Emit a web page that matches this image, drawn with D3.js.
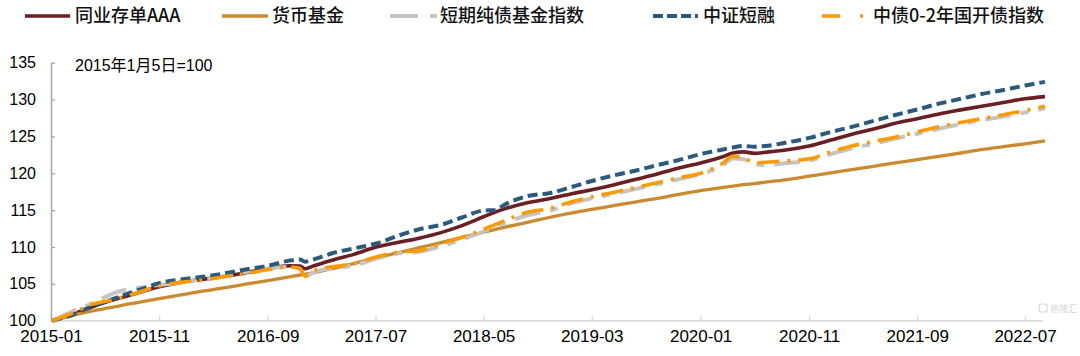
<!DOCTYPE html>
<html><head><meta charset="utf-8">
<script src="https://cdn.jsdelivr.net/npm/d3@7"></script>
<style>
html,body{margin:0;padding:0;background:#fff;}
svg{display:block;}
</style></head>
<body>
<svg id="chart" width="1080" height="356"></svg>
<script>
const dates = ["2015-01-05","2015-02-01","2015-03-01","2015-04-01","2015-05-01","2015-06-01","2015-07-01","2015-08-01","2015-09-01","2015-11-01",
"2016-01-01","2016-03-01","2016-05-01","2016-07-01","2016-09-01","2016-11-01","2016-12-01","2016-12-15","2017-01-01","2017-02-01",
"2017-03-01","2017-05-01","2017-07-01","2017-09-01","2017-11-01","2018-01-01","2018-03-01","2018-05-01","2018-06-01","2018-07-01",
"2018-09-01","2018-11-01","2019-01-01","2019-03-01","2019-05-01","2019-07-01","2019-09-01","2019-11-01","2020-01-01","2020-03-01",
"2020-04-01","2020-05-01","2020-06-01","2020-07-01","2020-09-01","2020-11-01","2021-01-01","2021-03-01","2021-05-01","2021-07-01",
"2021-09-01","2021-11-01","2022-01-01","2022-03-01","2022-05-01","2022-07-01","2022-08-26"];

const ncdAAA = [100,100.45,100.85,101.4,101.95,102.45,102.9,103.3,103.75,104.6,
105.2,105.6,106.0,106.5,107.05,107.45,107.4,107.05,107.3,107.8,
108.2,109.0,109.95,110.6,111.2,111.95,112.9,114.1,114.7,115.2,
116.0,116.55,117.2,117.75,118.4,119.15,119.9,120.7,121.4,122.2,
122.75,122.9,122.7,122.85,123.2,123.7,124.5,125.3,126.0,126.8,
127.4,128.05,128.6,129.1,129.6,130.1,130.4];

const moneyFund = [100,100.35,100.7,101.05,101.35,101.65,101.9,102.2,102.45,103.0,
103.5,104.0,104.45,104.95,105.45,105.95,106.2,106.3,106.45,106.75,
107.05,107.75,108.5,109.2,109.9,110.6,111.3,112.0,112.35,112.7,
113.35,114.0,114.6,115.1,115.6,116.1,116.6,117.15,117.65,118.05,
118.25,118.45,118.6,118.8,119.15,119.6,120.05,120.5,120.95,121.4,
121.85,122.3,122.75,123.2,123.6,124.0,124.4];

const shortBondFund = [100,100.6,101.25,101.8,102.5,103.2,103.8,104.2,104.45,104.85,
105.15,105.65,106.05,106.6,107.1,107.3,107.0,105.8,106.4,106.9,
107.1,107.5,108.4,109.1,109.35,110.1,111.0,112.1,112.7,113.3,
114.3,114.9,115.9,116.6,117.2,117.85,118.5,119.2,119.9,121.0,
122.0,121.9,121.2,121.1,121.4,121.7,122.6,123.4,124.0,124.7,
125.35,126.05,126.65,127.2,127.7,128.25,128.8];

const csiShortNote = [100,100.35,100.75,101.45,102.0,102.55,103.05,103.6,104.1,105.1,
105.6,105.95,106.4,106.95,107.45,108.15,108.3,108.0,108.2,108.7,
109.15,109.8,110.45,111.5,112.4,113.0,114.0,114.95,115.0,115.8,
116.9,117.3,118.1,118.95,119.7,120.35,121.1,121.8,122.6,123.2,
123.5,123.7,123.6,123.7,124.2,124.8,125.6,126.3,127.1,127.9,
128.65,129.45,130.1,130.75,131.3,131.9,132.4];

const cdbIndex = [100,100.5,101.0,101.7,102.3,102.6,102.9,103.3,103.8,104.7,
105.2,105.5,105.95,106.4,106.9,107.3,107.1,106.0,106.6,107.1,
107.3,107.75,108.6,109.3,109.5,110.4,111.3,112.4,113.0,113.6,
114.7,115.2,116.1,116.8,117.4,118.05,118.7,119.4,120.0,121.3,
122.3,122.1,121.4,121.5,121.7,121.95,122.9,123.7,124.3,124.9,
125.6,126.3,126.9,127.4,127.95,128.5,129.1];

const seriesNames = ["同业存单AAA","货币基金","短期纯债基金指数","中证短融","中债0-2年国开债指数"];
const xTickLabels = ["2015-01","2015-11","2016-09","2017-07","2018-05","2019-03","2020-01","2020-11","2021-09","2022-07"];
const yTicks = [100,105,110,115,120,125,130,135];
const note = "2015年1月5日=100";

const parse = d3.timeParse("%Y-%m-%d");
const parseM = d3.timeParse("%Y-%m");
const svg = d3.select("#chart");

const x = d3.scaleTime().domain([parse("2015-01-01"), parse("2022-08-26")]).range([51, 1045]);
const y = d3.scaleLinear().domain([100,135]).range([320.7, 62.7]);

const styles = [
  {data: ncdAAA, color:"#6A1F23", width:3.6, dash:null},
  {data: moneyFund, color:"#C98A30", width:3.3, dash:null},
  {data: shortBondFund, color:"#C4C4C4", width:4, dash:"26,10,8,10"},
  {data: csiShortNote, color:"#2A5A7E", width:4, dash:"10,5"},
  {data: cdbIndex, color:"#FF9A00", width:3.6, dash:"22,8,3,8"}
];

// axes
const xAxis = d3.axisBottom(x).tickValues(xTickLabels.map(parseM)).tickSizeInner(-5).tickSizeOuter(0).tickFormat(d3.timeFormat("%Y-%m"));
const gx = svg.append("g").attr("transform","translate(0,320.7)").call(xAxis);
gx.select(".domain").attr("stroke","#D9D9D9").attr("stroke-width",1.5).attr("d","M51,0H1043");
gx.selectAll(".tick line").attr("stroke","#D9D9D9").attr("stroke-width",1.3);
gx.selectAll(".tick text").attr("font-family","Liberation Sans, Arial, sans-serif").attr("font-size",17).attr("fill","#000").attr("dy","1.05em");

const yAxis = d3.axisLeft(y).tickValues(yTicks).tickSizeInner(-4).tickSizeOuter(0).tickPadding(15);
const gy = svg.append("g").attr("transform","translate(51,0)").call(yAxis);
gy.select(".domain").attr("stroke","#A6A6A6").attr("stroke-width",1.5);
gy.selectAll(".tick line").attr("stroke","#A6A6A6").attr("stroke-width",1.3);
gy.selectAll(".tick text").attr("font-family","Liberation Sans, Arial, sans-serif").attr("font-size",16).attr("fill","#000");

// lines
const line = d3.line().x((d,i)=>x(parse(dates[i]))).y(d=>y(d)).curve(d3.curveMonotoneX);
styles.forEach(s=>{
  svg.append("path").datum(s.data).attr("d", line).attr("fill","none")
    .attr("stroke", s.color).attr("stroke-width", s.width)
    .attr("stroke-dasharray", s.dash).attr("stroke-linejoin","round");
});

// note
svg.append("text").attr("x",75).attr("y",71).attr("font-family","Liberation Sans, 'Noto Sans CJK SC', sans-serif")
  .attr("font-size",16).attr("fill","#000").text(note);

// legend
const legendPos = [{x0:25,x1:70,tx:75},{x0:222,x1:268,tx:272},{x0:390,x1:437,tx:440},{x0:653,x1:698,tx:703},{x0:822,x1:867,tx:873}];
const legendDash = [null,null,"28,12,7,12","10,4",  "18,20,3,20"];
seriesNames.forEach((n,i)=>{
  const p = legendPos[i], s = styles[i];
  svg.append("line").attr("x1",p.x0).attr("x2",p.x1).attr("y1",16).attr("y2",16)
    .attr("stroke",s.color).attr("stroke-width",s.width).attr("stroke-dasharray",legendDash[i]);
  svg.append("text").attr("x",p.tx).attr("y",16).attr("dy","0.36em")
    .attr("font-family","'Noto Sans CJK SC', sans-serif").attr("font-weight",500).attr("font-size",18).attr("fill","#111").text(n);
});

// watermark
const wm = svg.append("g").attr("opacity",0.6);
wm.append("rect").attr("x",1039).attr("y",304).attr("width",8).attr("height",8).attr("rx",2)
  .attr("fill","none").attr("stroke","#bbb").attr("stroke-width",1.2);
wm.append("text").attr("x",1050).attr("y",312).attr("font-family","'Noto Sans CJK SC', sans-serif")
  .attr("font-size",9).attr("fill","#bbb").text("格隆汇");
</script>
</body></html>
